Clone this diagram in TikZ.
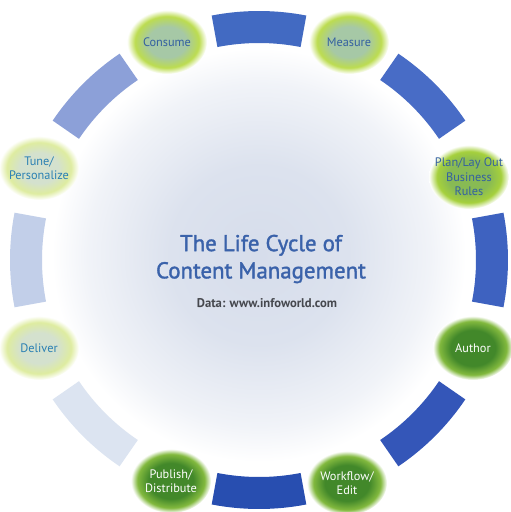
\documentclass[tikz,border=0pt]{standalone}
\usepackage{fontspec}
\setmainfont{PT Sans}
\newfontfamily\titlefont{PT Sans}[UprightFeatures={FakeBold=1.5}]
\usetikzlibrary{shapes.geometric}

\definecolor{titleblue}{RGB}{58,98,170}
\definecolor{stageblue}{RGB}{52,96,160}
\definecolor{datagray}{RGB}{70,72,78}
% ring segments, dark at the bottom, pale on the left
\definecolor{segA}{RGB}{66,106,194}
\definecolor{segB}{RGB}{72,108,198}
\definecolor{segC}{RGB}{62,98,192}
\definecolor{segD}{RGB}{52,86,184}
\definecolor{segE}{RGB}{40,78,176}
\definecolor{segF}{RGB}{220,228,241}
\definecolor{segG}{RGB}{194,207,233}
\definecolor{segH}{RGB}{140,160,216}
% blob colours
\definecolor{darkin}{RGB}{66,136,42}
\definecolor{darkout}{RGB}{130,185,62}
\definecolor{midin}{RGB}{136,186,84}
\definecolor{midout}{RGB}{165,208,60}
\definecolor{palein}{RGB}{166,200,166}
\definecolor{paleout}{RGB}{188,220,80}
\definecolor{faintin}{RGB}{212,225,206}
\definecolor{faintout}{RGB}{222,236,160}
\definecolor{glow}{RGB}{214,221,235}

\pgfdeclareradialshading{darkblob}{\pgfpoint{0bp}{0bp}}{color(0bp)=(darkin); color(14bp)=(darkin); color(21bp)=(darkout); color(25bp)=(white); color(50bp)=(white)}
\pgfdeclareradialshading{midblob}{\pgfpoint{0bp}{0bp}}{color(0bp)=(midin); color(13bp)=(midin); color(20bp)=(midout); color(25bp)=(white); color(50bp)=(white)}
\pgfdeclareradialshading{paleblob}{\pgfpoint{0bp}{0bp}}{color(0bp)=(palein); color(12bp)=(palein); color(20bp)=(paleout); color(25bp)=(white); color(50bp)=(white)}
\pgfdeclareradialshading{faintblob}{\pgfpoint{0bp}{0bp}}{color(0bp)=(faintin); color(12bp)=(faintin); color(20bp)=(faintout); color(25bp)=(white); color(50bp)=(white)}
\pgfdeclareradialshading{bgglow}{\pgfpoint{0bp}{0bp}}{color(0bp)=(glow); color(10bp)=(glow!85!white); color(19bp)=(glow!35!white); color(23bp)=(white); color(50bp)=(white)}

\begin{document}
\begin{tikzpicture}[x=0.02cm, y=0.02cm,
  every node/.style={font=\fontsize{7}{8.3}\selectfont, align=center},
  stage/.style={ellipse, inner sep=-0.16cm, minimum width=1.6cm, minimum height=1.28cm},
  dark/.style={stage, shading=darkblob, text=white},
  mid/.style={stage, shading=midblob, text=stageblue},
  pale/.style={stage, shading=paleblob, text=stageblue},
  faint/.style={stage, shading=faintblob, text=stageblue!80!cyan},
  ringseg/.style={line width=0.64cm}]
  \useasboundingbox (-259,-252) rectangle (252,260);
  \shade[shading=bgglow] (0,5) circle (225);

  % the ring, one segment between each pair of stages
  \foreach \ang/\col in {90/segA, 45/segB, 0/segC, -45/segD, -90/segE, -135/segF, 180/segG, 135/segH}
    \draw[ringseg, \col] ({\ang+11}:233) arc ({\ang+11}:{\ang-11}:233);

  % the stages
  \node[pale] (consume) at (-92,218) {Consume};
  \node[pale] (measure) at (90,218) {Measure};
  \node[mid] (plan) at (210,83) {Plan/Lay Out\\Business\\Rules};
  \node[dark] (author) at (214,-88) {Author};
  \node[dark] (workflow) at (88,-223) {Workflow/\\Edit};
  \node[dark] (publish) at (-88,-221) {Publish/\\Distribute};
  \node[faint] (deliver) at (-220,-88) {Deliver};
  \node[faint] (tune) at (-220,92) {Tune/\\Personalize};

  % centre text
  \node[font=\fontsize{13}{15.5}\titlefont, text=titleblue] (title) at (2,1) {The Life Cycle of\\Content Management};
  \node[font=\fontsize{7.2}{8.5}\selectfont\bfseries, text=datagray] (data) at (8,-43) {Data: www.infoworld.com};
\end{tikzpicture}
\end{document}
